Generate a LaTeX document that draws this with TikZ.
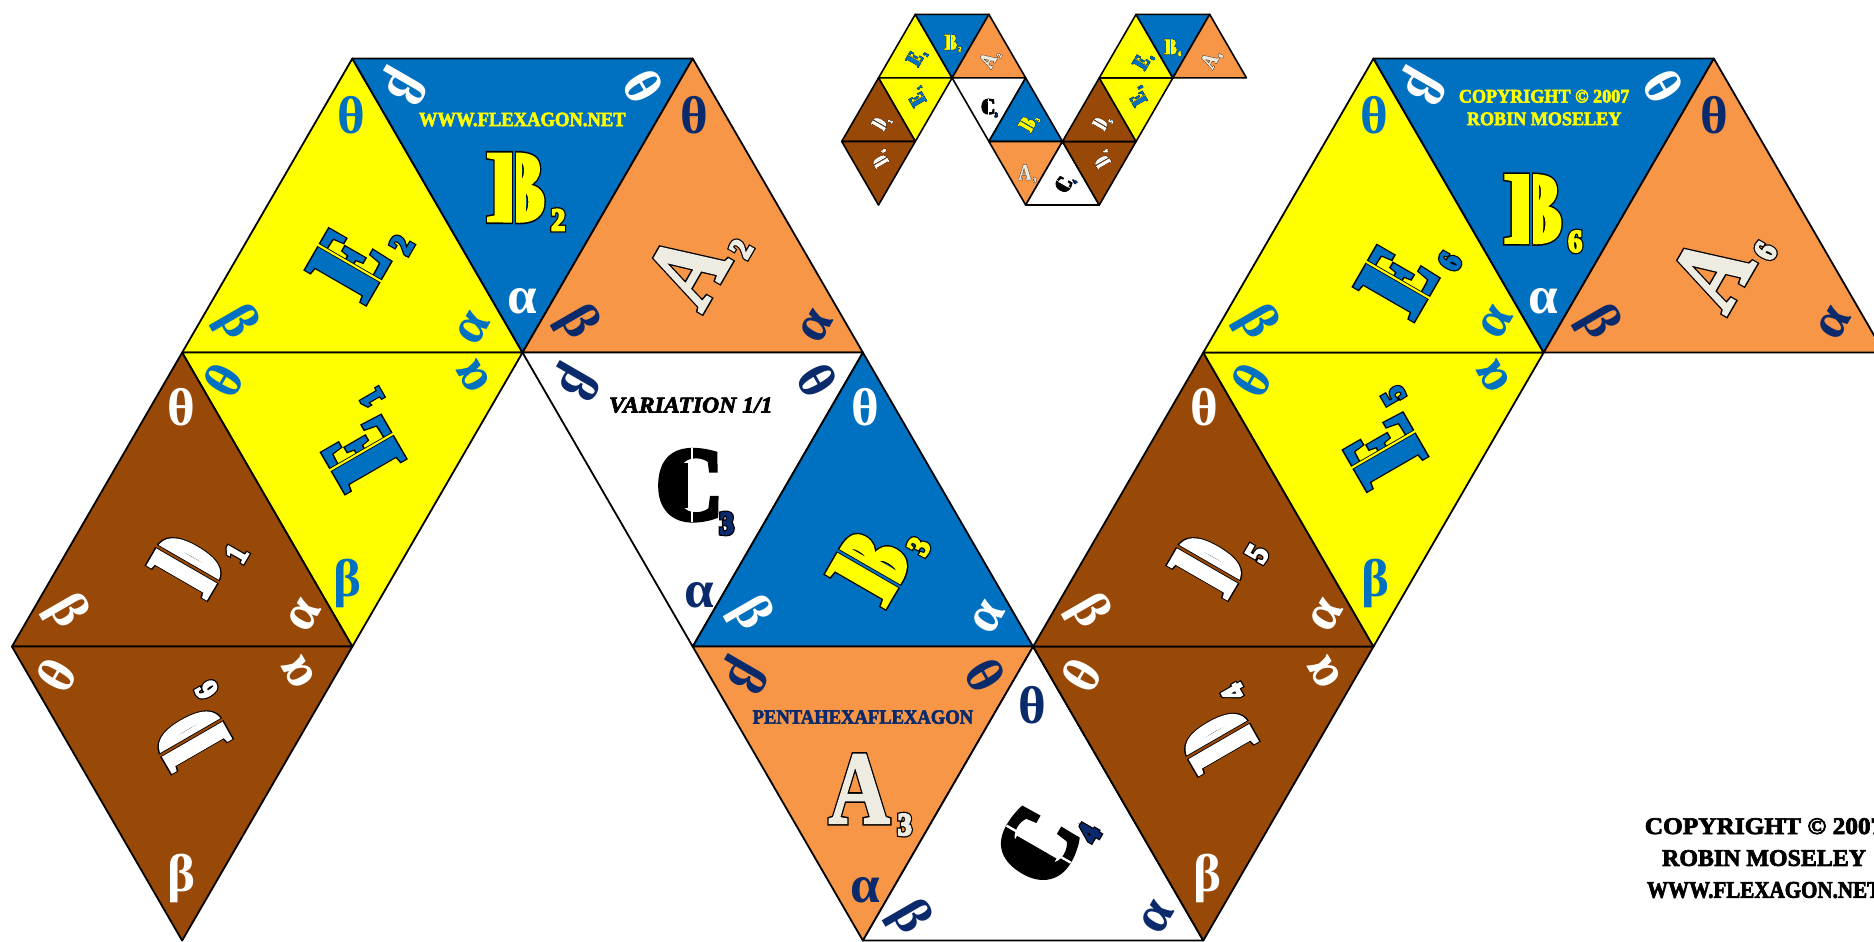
\documentclass[tikz,border=0pt]{standalone}
\usepackage{fontspec}
\setmainfont{Liberation Serif}
\newfontfamily\lbfill[FakeBold=2]{Liberation Serif Bold}
\newfontfamily\lbline[FakeBold=5]{Liberation Serif Bold}
\newfontfamily\sbfill[FakeBold=6]{Liberation Serif Bold}
\newfontfamily\sbline[FakeBold=14]{Liberation Serif Bold}
\newfontfamily\capfont[FakeBold=3]{Liberation Serif Bold}
\newfontfamily\capital[FakeBold=3]{Liberation Serif Bold Italic}
\newfontfamily\greekfont{Liberation Serif Bold}
\definecolor{fyellow}{HTML}{FFFF00}
\definecolor{fblue}{HTML}{0070C0}
\definecolor{forange}{HTML}{F79646}
\definecolor{fbrown}{HTML}{984807}
\definecolor{fnavy}{HTML}{0B2A6C}
\definecolor{fegg}{HTML}{EEECE1}
\tikzset{
  facetri/.style={draw=black,line join=round},
  grk/.style={inner sep=0pt,font=\fontsize{40}{40}\greekfont},
  captext/.style={inner sep=0pt,align=center,font=\fontsize{15.2}{16.5}\capfont},
  letterfill/.style={inner sep=0pt,font=\fontsize{78}{78}\lbfill},
  letterline/.style={inner sep=0pt,font=\fontsize{78}{78}\lbline,text=black},
  subfill/.style={inner sep=0pt,font=\fontsize{24}{24}\sbfill},
  subline/.style={inner sep=0pt,font=\fontsize{24}{24}\sbline,text=black}
}
% lattice point of the net
\def\lat#1#2{({10+#1*142.4},{49+#2*246})}
% triangle: colour, three lattice points
\def\tri#1#2#3#4#5#6#7{\filldraw[facetri,fill=#1] \lat{#2}{#3} -- \lat{#4}{#5} -- \lat{#6}{#7} -- cycle;}
% stencil cut through a letter
\def\gapline#1#2{\fill[black] ({#1-1.6},-29.5) rectangle ({#1+1.6},29.5);
  \fill[#2] ({#1-.9},-31) rectangle ({#1+.9},31);}
% per-letter settings
\def\paramsA{\def\lscale{.82}\def\subx{38}\def\suby{30}}
\def\paramsB{\def\lscale{.86}\def\subx{35}\def\suby{27}}
\def\paramsC{\def\lscale{.9}\def\subx{31}\def\suby{32}\def\subcol{fnavy}}
\def\paramsD{\def\lscale{.6}\def\subx{28}\def\suby{31}}
\def\paramsE{\def\lscale{.8}\def\subx{36}\def\suby{30}}
\def\markA#1#2{}
\def\markB#1#2{\fill[#1] (-11,-26) rectangle (5,-3); \fill[#1] (-11,0) rectangle (8,26); \fill[#1] (-11,-4) rectangle (-3,1); \gapline{-2}{#2}}
\def\markC#1#2{\fill[#1] (-19,-19) rectangle (-1,19); \fill[#2] (1,-31) rectangle (3,31);}
\def\markD#1#2{\fill[#1] (-14,-23) rectangle (7,23); \gapline{0}{#2}}
\def\markE#1#2{\fill[#1] (-16,-24) rectangle (0,24); \gapline{1}{#2}}
% letter with subscript: x,y,rotation,letter,digit,fill,background
\def\glyphset#1#2#3#4#5#6#7{%
  \begin{scope}[shift={(#1,#2)},rotate=#3,transform shape]
    \def\subcol{#6}
    \csname params#4\endcsname
    \node[letterline,xscale=\lscale] at (0,0) {#4};
    \node[letterfill,xscale=\lscale,text=#6] at (0,0) {#4};
    \csname mark#4\endcsname{#6}{#7}
    \node[subline,xscale=.9] at (\subx,\suby) {#5};
    \node[subfill,xscale=.9,text=\subcol] at (\subx,\suby) {#5};
  \end{scope}}
% all faces of one net
\def\allfaces{%
  \tri{fyellow}{2}{0}{1}{1}{3}{1}
  \tri{fblue}{2}{0}{4}{0}{3}{1}
  \tri{forange}{4}{0}{3}{1}{5}{1}
  \tri{fyellow}{1}{1}{3}{1}{2}{2}
  \tri{fbrown}{1}{1}{0}{2}{2}{2}
  \tri{fbrown}{0}{2}{2}{2}{1}{3}
  \tri{white}{3}{1}{5}{1}{4}{2}
  \tri{fblue}{5}{1}{4}{2}{6}{2}
  \tri{forange}{4}{2}{6}{2}{5}{3}
  \tri{white}{6}{2}{5}{3}{7}{3}
  \tri{fbrown}{6}{2}{8}{2}{7}{3}
  \tri{fbrown}{6}{2}{8}{2}{7}{1}
  \tri{fyellow}{7}{1}{9}{1}{8}{2}
  \tri{fyellow}{7}{1}{9}{1}{8}{0}
  \tri{fblue}{8}{0}{10}{0}{9}{1}
  \tri{forange}{10}{0}{9}{1}{11}{1}
  \glyphset{292}{221}{60}{E}{2}{fblue}{fyellow}
  \glyphset{432}{157}{0}{B}{2}{fyellow}{fblue}
  \glyphset{575}{226}{60}{A}{2}{fegg}{forange}
  \glyphset{303}{379}{120}{E}{1}{fblue}{fyellow}
  \glyphset{157}{472}{60}{D}{1}{white}{fbrown}
  \glyphset{160}{617}{120}{D}{6}{white}{fbrown}
  \glyphset{577}{406}{0}{C}{3}{black}{white}
  \glyphset{728}{474}{60}{B}{3}{fyellow}{fblue}
  \glyphset{719}{660}{0}{A}{3}{fegg}{forange}
  \glyphset{868}{708}{60}{C}{4}{black}{white}
  \glyphset{1019}{619}{120}{D}{4}{white}{fbrown}
  \glyphset{1011}{472}{60}{D}{5}{white}{fbrown}
  \glyphset{1158}{377}{120}{E}{5}{fblue}{fyellow}
  \glyphset{1169}{235}{60}{E}{6}{fblue}{fyellow}
  \glyphset{1283}{175}{0}{B}{6}{fyellow}{fblue}
  \glyphset{1432}{228}{60}{A}{6}{fegg}{forange}
}
\def\gk#1#2#3#4#5{\node[grk,text=#4,rotate=#3] at (#1,#2) {#5};}
\begin{document}
\begin{tikzpicture}[x=0.9pt,y=-0.9pt]
  \useasboundingbox (0,0) rectangle (1568,787.4);
  \clip (0,0) rectangle (1568,787.4);
  % large net
  \begin{scope}[line width=1.35pt]
    \allfaces
  \end{scope}
  % small net
  \begin{scope}[shift={(702.1,1.4)},scale=.2162,transform shape,line width=1.2pt]
    \allfaces
  \end{scope}
  % greek corner marks: E2 B2 A2
  \gk{294}{96}{0}{fblue}{θ}\gk{197}{270}{-60}{fblue}{β}\gk{396}{275}{60}{fblue}{α}
  \gk{337}{72}{-120}{white}{β}\gk{538}{72}{-60}{white}{θ}\gk{437}{252}{0}{white}{α}
  \gk{581}{96}{0}{fnavy}{θ}\gk{483}{270}{-60}{fnavy}{β}\gk{683}{273}{60}{fnavy}{α}
  % E1 D1 D6
  \gk{187}{318}{60}{fblue}{θ}\gk{396}{315}{120}{fblue}{α}\gk{291}{488}{0}{fblue}{β}
  \gk{152}{341}{0}{white}{θ}\gk{55}{512}{-60}{white}{β}\gk{255}{515}{60}{white}{α}
  \gk{47}{565}{60}{white}{θ}\gk{250}{563}{120}{white}{α}\gk{152}{735}{0}{white}{β}
  % C3 B3 A3 C4
  \gk{482}{320}{-120}{fnavy}{β}\gk{684}{318}{-60}{fnavy}{θ}\gk{585}{498}{0}{fnavy}{α}
  \gk{724}{341}{0}{white}{θ}\gk{627}{514}{-60}{white}{β}\gk{827}{517}{60}{white}{α}
  \gk{622}{565}{-120}{fnavy}{β}\gk{824}{565}{-60}{fnavy}{θ}\gk{724}{745}{0}{fnavy}{α}
  \gk{864}{590}{0}{fnavy}{θ}\gk{760}{768}{-60}{fnavy}{β}\gk{968}{768}{60}{fnavy}{α}
  % D4 D5 E5
  \gk{905}{565}{60}{white}{θ}\gk{1108}{563}{120}{white}{α}\gk{1010}{735}{0}{white}{β}
  \gk{1008}{341}{0}{white}{θ}\gk{910}{512}{-60}{white}{β}\gk{1110}{515}{60}{white}{α}
  \gk{1047}{318}{60}{fblue}{θ}\gk{1250}{315}{120}{fblue}{α}\gk{1151}{488}{0}{fblue}{β}
  % E6 B6 A6
  \gk{1150}{96}{0}{fblue}{θ}\gk{1051}{270}{-60}{fblue}{β}\gk{1252}{270}{60}{fblue}{α}
  \gk{1190}{72}{-120}{white}{β}\gk{1392}{72}{-60}{white}{θ}\gk{1291}{252}{0}{white}{α}
  \gk{1434}{96}{0}{fnavy}{θ}\gk{1337}{270}{-60}{fnavy}{β}\gk{1535}{271}{60}{fnavy}{α}
  % captions
  \node[captext,text=fyellow,xscale=.92] (capweb) at (437,100) {WWW.FLEXAGON.NET};
  \node[captext,text=fyellow,xscale=.94,font=\fontsize{14.5}{17}\capfont] (capcopy) at (1292,90) {COPYRIGHT © 2007\\ROBIN MOSELEY};
  \node[captext,text=black,font=\fontsize{17}{18}\capital,xscale=1.05] (capvar) at (578,339) {VARIATION 1/1};
  \node[captext,text=fnavy,xscale=.92] (cappenta) at (722,600) {PENTAHEXAFLEXAGON};
  \node[captext,text=black,font=\fontsize{18}{24}\capfont,align=center] (capfoot) at (1476,718) {\scalebox{1.06}[1]{COPYRIGHT © 2007}\\ROBIN MOSELEY\\\scalebox{.88}[1]{WWW.FLEXAGON.NET}};
\end{tikzpicture}
\end{document}
